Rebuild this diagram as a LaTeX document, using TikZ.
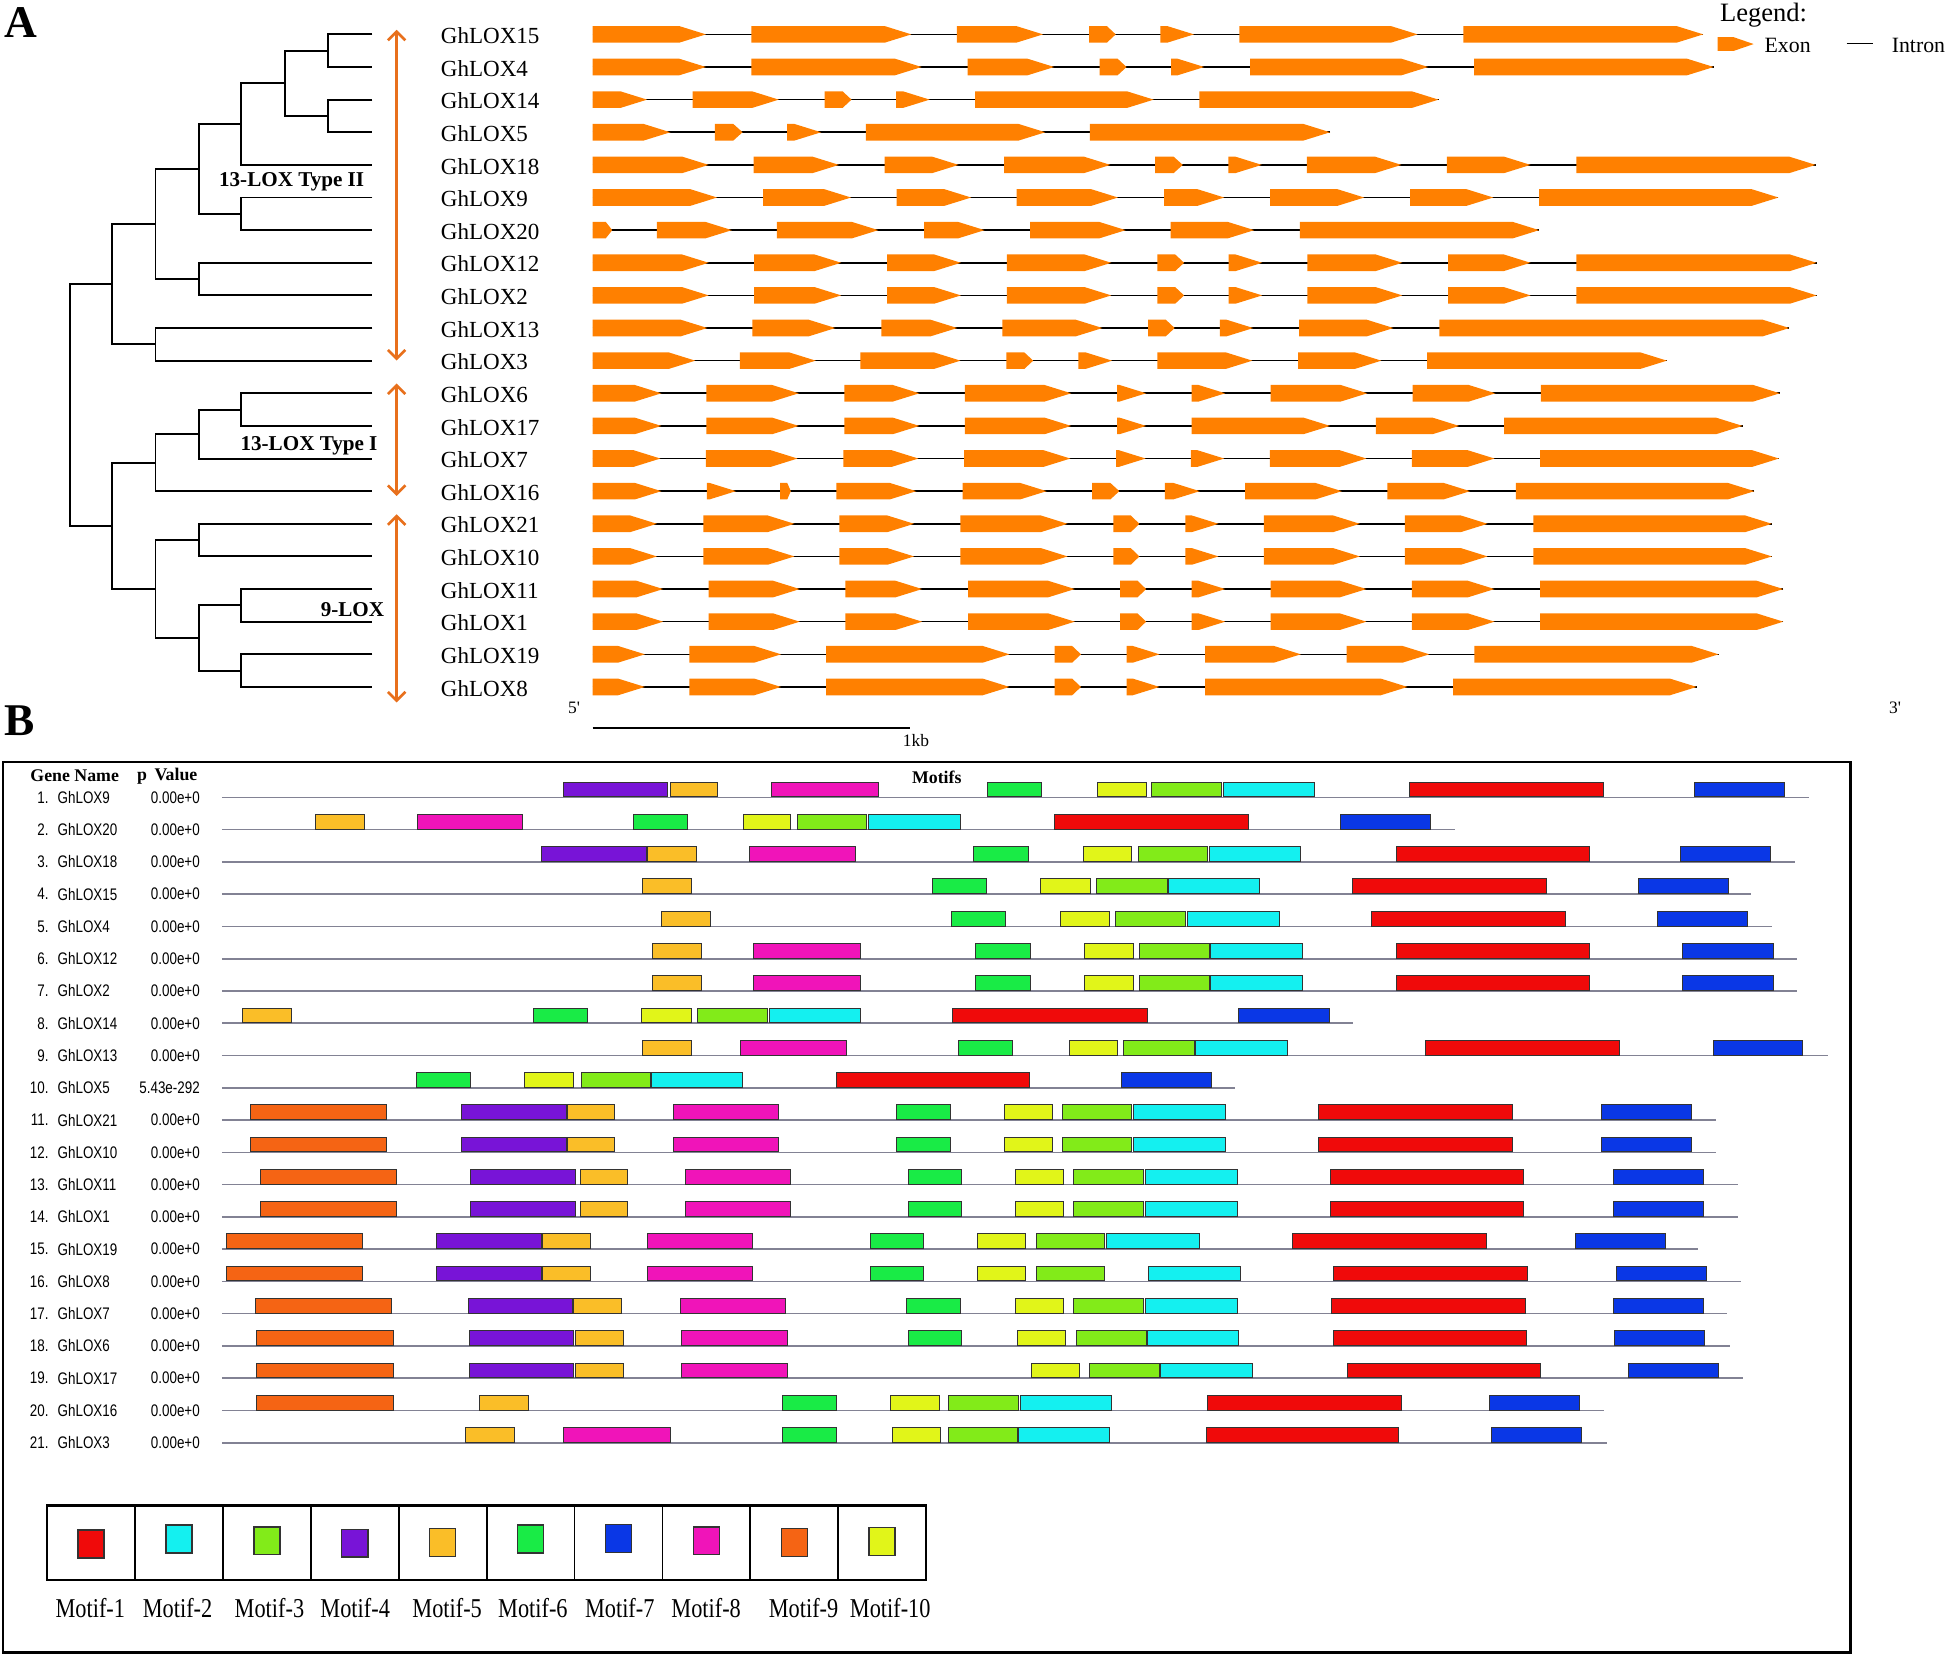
\documentclass[tikz,border=0pt]{standalone}
\usepackage{fontspec}
\setmainfont{Liberation Serif}
\newfontfamily\lsans{Liberation Sans}
\usetikzlibrary{arrows.meta}

\definecolor{exoncol}{RGB}{255,128,0}
\definecolor{cladecol}{RGB}{232,112,28}
\definecolor{bline}{RGB}{130,130,148}
\definecolor{mot1}{RGB}{240,10,10}
\definecolor{mot2}{RGB}{20,240,240}
\definecolor{mot3}{RGB}{130,235,25}
\definecolor{mot4}{RGB}{120,20,215}
\definecolor{mot5}{RGB}{250,190,40}
\definecolor{mot6}{RGB}{25,235,70}
\definecolor{mot7}{RGB}{10,55,230}
\definecolor{mot8}{RGB}{240,20,185}
\definecolor{mot9}{RGB}{245,100,20}
\definecolor{mot10}{RGB}{225,245,25}

% row position of panel A
\newcommand{\rowy}[1]{27.7+26.29*#1}

\begin{document}
\begin{tikzpicture}[x=0.025cm, y=-0.025cm,
    tree/.style={line width=1.1pt},
    intron/.style={line width=0.9pt},
    cladearrow/.style={draw=cladecol, line width=1.5pt, {Straight Barb[length=5pt,width=10pt]}-{Straight Barb[length=5pt,width=10pt]}},
    gname/.style={font=\fontsize{13.2}{15}\selectfont, anchor=west, inner sep=0pt},
    tlab/.style={font=\bfseries\fontsize{12.1}{14}\selectfont, inner sep=0pt},
    plab/.style={font=\bfseries\fontsize{26}{28}\selectfont, inner sep=0pt},
    small/.style={font=\fontsize{10}{12}\selectfont, inner sep=0pt},
    rlab/.style={font=\lsans\fontsize{9.6}{11}\selectfont, xscale=0.8, inner sep=0pt},
    hlab/.style={font=\bfseries\fontsize{10.2}{12}\selectfont, inner sep=0pt},
    mlab/.style={font=\fontsize{15.6}{18}\selectfont, xscale=0.82, inner sep=0pt},
    mbox/.style={draw=black!80, line width=0.5pt}]
    \useasboundingbox (0,0) rectangle (1568,1334);

    % Panel A: tree
    \node[plab] (pa) at (16.5,18.5) {A};
    \foreach \i in {0,...,20}
        \coordinate (l\i) at (300,{\rowy{\i}});
    \coordinate (t1) at (264.6,{\rowy{0.5}});
    \coordinate (t2) at (264.6,{\rowy{2.5}});
    \coordinate (t3) at (229.3,{\rowy{1.5}});
    \coordinate (t4) at (194.2,{\rowy{2.75}});
    \coordinate (t5) at (194.2,{\rowy{5.5}});
    \coordinate (t6) at (160.4,{\rowy{4.125}});
    \coordinate (t7) at (160.4,{\rowy{7.5}});
    \coordinate (t8) at (125.3,{\rowy{5.8125}});
    \coordinate (t9) at (125.3,{\rowy{9.5}});
    \coordinate (t10) at (90.2,{\rowy{7.65625}});
    \coordinate (t11) at (194.2,{\rowy{11.5}});
    \coordinate (t12) at (160.4,{\rowy{12.25}});
    \coordinate (t13) at (125.3,{\rowy{13.125}});
    \coordinate (t14) at (160.4,{\rowy{15.5}});
    \coordinate (t15) at (194.2,{\rowy{17.5}});
    \coordinate (t16) at (194.2,{\rowy{19.5}});
    \coordinate (t17) at (160.4,{\rowy{18.5}});
    \coordinate (t18) at (125.3,{\rowy{17}});
    \coordinate (t19) at (90.2,{\rowy{15.0625}});
    \coordinate (t20) at (56.1,{\rowy{11.36}});

    \draw[tree] (l0) -| (t1) |- (l1);
    \draw[tree] (l2) -| (t2) |- (l3);
    \draw[tree] (t1) -| (t3) |- (t2);
    \draw[tree] (t3) -| (t4) |- (l4);
    \draw[tree] (l5) -| (t5) |- (l6);
    \draw[tree] (t4) -| (t6) |- (t5);
    \draw[tree] (l7) -| (t7) |- (l8);
    \draw[tree] (t6) -| (t8) |- (t7);
    \draw[tree] (l9) -| (t9) |- (l10);
    \draw[tree] (t8) -| (t10) |- (t9);
    \draw[tree] (l11) -| (t11) |- (l12);
    \draw[tree] (t11) -| (t12) |- (l13);
    \draw[tree] (t12) -| (t13) |- (l14);
    \draw[tree] (l15) -| (t14) |- (l16);
    \draw[tree] (l17) -| (t15) |- (l18);
    \draw[tree] (l19) -| (t16) |- (l20);
    \draw[tree] (t15) -| (t17) |- (t16);
    \draw[tree] (t14) -| (t18) |- (t17);
    \draw[tree] (t13) -| (t19) |- (t18);
    \draw[tree] (t10) -| (t20) |- (t19);

    \node[tlab] (c2) at (235,146.5) {13-LOX Type II};
    \node[tlab] (c1) at (249,359) {13-LOX Type I};
    \node[tlab] (c9) at (284,491) {9-LOX};

    \draw[cladearrow] (319.6,24) -- (319.6,290.5);
    \draw[cladearrow] (319.6,309) -- (319.6,399.6);
    \draw[cladearrow] (319.6,414.4) -- (319.6,566);

    % Panel A: gene structures
    \foreach \r/\nm/\e/\ex in {
        0/15/1372.4/{477.5/568.8,605.5/734.3,771/840.4,877.5/899,935/962,998.7/1142.2,1179.2/1372.4},
        1/4/1380.8/{477.5/568.8,605.5/742.6,779.6/849.4,886.1/907.7,943.6/970.3,1007.3/1150.7,1187.7/1380.8},
        2/14/1159.1/{477.5/521.4,558.1/627.5,664.5/686.1,722.1/749.1,785.7/929.6,966.3/1159.1},
        3/5/1071.7/{477.5/540.1,576/598.3,634.3/661.6,697.6/842.2,878.2/1071.7},
        4/18/1463/{477.5/571,607.3/676,712.7/772.4,809.1/894.7,930.7/953,989.7/1016.7,1053/1129.2,1165.8/1233.2,1270.2/1463},
        5/9/1433/{477.5/577.8,614.9/685.7,722.4/782.5,819.2/900.8,937.9/986.4,1023.5/1099.2,1136.2/1203.2,1240.2/1433},
        6/20/1240.2/{477.5/493.3,529.3/589.7,626/707.7,744.7/793.3,830/907,943.3/1010.6,1047.4/1240.2},
        7/12/1463.7/{477.5/571,607.7/677.8,714.9/774.2,811.3/895.4,932.5/954.1,990/1017,1053.4/1129.9,1166.9/1233.2,1270.2/1463.7},
        8/2/1463.7/{477.5/571,607.7/677.8,714.9/774.2,811.3/895.4,932.5/954.1,990/1017,1053.4/1129.9,1166.9/1233.2,1270.2/1463.7},
        9/13/1441.8/{477.5/570,606.2/673.1,710.2/771.3,807.7/888.3,925/946.5,982.9/1009.8,1046.7/1122.8,1159.8/1441.8},
        10/3/1343.1/{477.5/560.2,596.2/657.3,693.3/773.9,810.9/832.5,868.8/896.1,932.5/1009.1,1046/1113,1150/1343.1},
        11/6/1434.1/{477.5/532.9,569.2/643.6,680.3/740.8,777.5/863.1,900.1/923.5,960.2/987.2,1023.8/1101.7,1138.3/1204.9,1241.6/1434.1},
        12/17/1404.1/{477.5/532.9,569.2/643.6,680.3/740.8,777.5/863.1,900.1/923.5,960.2/1071.7,1108.7/1175.7,1212/1404.1},
        13/7/1433.4/{477.5/532.1,568.8/642.6,679.6/740,776.8/862.4,899.4/923.1,959.5/986.4,1023.1/1101,1137.6/1204.2,1240.9/1433.4},
        14/16/1413.6/{477.5/532.9,569.6/593,628.5/637.2,673.9/738.3,775.7/843.3,880/901.9,938.6/966.7,1003.3/1081.2,1117.9/1184.5,1221.5/1413.6},
        15/21/1427.7/{477.5/529.3,566.7/640.1,676.4/736.5,773.9/860.2,897.2/918.1,955.2/981.8,1018.4/1095.7,1132/1198.6,1235.6/1427.7},
        16/10/1427.7/{477.5/529.3,566.7/640.1,676.4/736.5,773.9/860.2,897.2/918.1,955.2/981.8,1018.4/1095.7,1132/1198.6,1235.6/1427.7},
        17/11/1436.9/{477.5/534.3,571/644.4,681.1/743,780/866,902.6/923.5,960.2/987.2,1023.8/1101,1137.6/1204.2,1240.9/1436.9},
        18/1/1436.9/{477.5/534.3,571/644.4,681.1/743,780/866,902.6/923.5,960.2/987.2,1023.8/1101,1137.6/1204.2,1240.9/1436.9},
        19/19/1384.7/{477.5/519.6,555.5/629.3,665.6/813.4,849.8/871,907.7/934.3,971/1048.1,1085.1/1151.7,1188/1384.7},
        20/8/1367.1/{477.5/519.6,555.5/629.3,665.6/813.4,849.8/871,907.7/934.3,971/1134.1,1170.8/1367.1}}{
        \pgfmathsetmacro{\yy}{\rowy{\r}}
        \node[gname] (gn\r) at (355,\yy+1) {GhLOX\nm};
        \draw[intron] (477.5,\yy) -- (\e,\yy);
        \foreach \a/\b in \ex {
            \pgfmathsetmacro{\tp}{(\b-\a<23) ? (\b-\a)/3 : min(21.5,\b-\a)}
            \fill[exoncol] (\a,\yy-6.7) -- ({\b-\tp},\yy-6.7) -- (\b,\yy) -- ({\b-\tp},\yy+6.7) -- (\a,\yy+6.7) -- cycle;
        }
    }

    % scale bar and ends
    \node[small] (five) at (462.6,570) {5\textquotesingle};
    \node[small] (three) at (1527,570) {3\textquotesingle};
    \coordinate (kb0) at (477.5,586.3);
    \coordinate (kb1) at (732.9,586.3);
    \draw[line width=1.1pt] (kb0) -- (kb1);
    \node[small] (kb) at (738,597) {1kb};

    % legend
    \node[font=\fontsize{15.2}{17}\selectfont, inner sep=0pt] (leg) at (1421,12) {Legend:};
    \fill[exoncol] (1384,30) -- (1397,30) -- (1413,35.5) -- (1397,41) -- (1384,41) -- cycle;
    \node[font=\fontsize{12.5}{14}\selectfont, inner sep=0pt] (lex) at (1440.4,37) {Exon};
    \draw[intron] (1488,35) -- (1509.5,35);
    \node[font=\fontsize{12.5}{14}\selectfont, inner sep=0pt] (lin) at (1545.8,37) {Intron};

    % Panel B: motifs
    \node[plab] (pb) at (16,581) {B};
    \draw[line width=1.4pt] (2.5,613.8) rectangle (1491.2,1331.5);
    \node[hlab] (hg) at (60.2,625.3) {Gene Name};
    \node[hlab] (hp) at (134.8,625.3) {p\, Value};
    \node[hlab] (hm) at (754.8,626) {Motifs};

    \foreach \k/\nm/\pv/\e/\mm in {
        1/9/0.00e+0/1457.8/{4/454.2/537.8,5/539.9/578.1,8/621.9/707.6,6/795.9/839.5,10/884.1/923.6,3/927.7/983.9,2/985.4/1058.9,1/1136/1292.1,7/1365/1437.5},
        2/20/0.00e+0/1172.5/{5/253.8/293.6,8/336.4/421,6/510.7/553.5,10/598.8/637.1,3/642.6/698.5,2/700/773.5,1/849.6/1006.2,7/1079.7/1152.2},
        3/18/0.00e+0/1446.6/{4/436.6/520.7,5/521.7/561,8/603.8/688.9,6/784.7/828.3,10/872.9/911.4,3/917/972.8,2/974.3/1047.8,1/1124.8/1280.4,7/1353.9/1426.9},
        4/15/0.00e+0/1411.2/{5/517.7/557,6/751.4/794.9,10/838.5/878.5,3/883.6/940.3,2/941.4/1014.8,1/1089.9/1245.9,7/1319.9/1392.9},
        5/4/0.00e+0/1427.4/{5/532.8/572.6,6/767/810.1,10/854.2/894.2,3/898.8/955.5,2/957.1/1030.6,1/1105.1/1261.6,7/1335.1/1408.1},
        6/12/0.00e+0/1447.6/{5/525.8/565.5,8/607.3/693.4,6/785.8/829.9,10/873.9/913.5,3/918/974.3,2/975.3/1049.8,1/1124.8/1280.4,7/1355.9/1428.9},
        7/2/0.00e+0/1447.6/{5/525.8/565.5,8/607.3/693.4,6/785.8/829.9,10/873.9/913.5,3/918/974.3,2/975.3/1049.8,1/1124.8/1280.4,7/1355.9/1428.9},
        8/14/0.00e+0/1090.4/{5/195.4/235.2,6/430.1/473.4,10/517.2/557,3/562/618.4,2/619.9/693.4,1/767.5/924.6,7/998.1/1071.1},
        9/13/0.00e+0/1473/{5/517.7/557,8/596.3/682.4,6/772.5/815.7,10/861.8/900.3,3/905.4/962.1,2/963.1/1037.1,1/1148.6/1305.2,7/1380.2/1452.7},
        10/5/5.43e-292/995.1/{6/335.9/378.7,10/422.5/461.8,3/468.3/523.7,2/524.8/598.3,1/673.8/829.3,7/903.3/976.3},
        11/21/0.00e+0/1382.8/{9/201.4/311.2,4/371.7/456.3,5/457.3/495,8/542.4/627,6/722.2/765.5,10/809.1/847.6,3/856.2/911.4,2/913/987,1/1062.5/1218.6,7/1290.5/1363},
        12/10/0.00e+0/1382.8/{9/201.4/311.2,4/371.7/456.3,5/457.3/495,8/542.4/627,6/722.2/765.5,10/809.1/847.6,3/856.2/911.4,2/913/987,1/1062.5/1218.6,7/1290.5/1363},
        13/11/0.00e+0/1400/{9/210/319.8,4/379.2/463.3,5/467.3/505.6,8/552.4/637.1,6/731.7/774.5,10/818.2/857.2,3/864.8/921.6,2/922.6/997.1,1/1072.1/1227.2,7/1300.2/1372.6},
        14/1/0.00e+0/1400/{9/210/319.8,4/379.2/463.3,5/467.3/505.6,8/552.4/637.1,6/731.7/774.5,10/818.2/857.2,3/864.8/921.6,2/922.6/997.1,1/1072.1/1227.2,7/1300.2/1372.6},
        15/19/0.00e+0/1368.1/{9/182.8/292.1,4/352/436.1,5/437.1/475.9,8/521.7/606.3,6/701/744.3,10/787.8/826.3,3/834.9/890.2,2/891.7/966.2,1/1041.2/1197.3,7/1269.3/1342.2},
        16/8/0.00e+0/1403/{9/182.8/292.1,4/352/436.1,5/437.1/475.9,8/521.7/606.3,6/701/744.3,10/787.8/826.3,3/834.9/890.2,2/925.6/999.6,1/1074.1/1230.7,7/1302.2/1374.7},
        17/7/0.00e+0/1391.9/{9/205.5/315.8,4/377.2/461.3,5/462.3/500.6,8/547.9/632.5,6/730.7/773.5,10/818.2/857.2,3/864.8/921.6,2/922.6/997.1,1/1073.1/1229.2,7/1300.2/1372.6},
        18/6/0.00e+0/1393.9/{9/207/316.8,4/378.2/462.3,5/463.8/502.6,8/548.9/634.5,6/731.7/774.5,10/820.2/858.7,3/867.4/923.6,2/924.6/998.1,1/1074.1/1230.2,7/1301.2/1373.6},
        19/17/0.00e+0/1404.6/{9/207/316.8,4/378.2/462.3,5/463.8/502.6,8/548.9/634.5,10/830.9/869.4,3/878/934.3,2/935.3/1009.3,1/1085.3/1241.4,7/1311.8/1384.8},
        20/16/0.00e+0/1292.6/{9/207/316.8,5/386.3/426,6/630.5/673.8,10/717.6/756.9,3/764.5/820.7,2/822.3/895.7,1/972.8/1129.4,7/1199.8/1272.3},
        21/3/0.00e+0/1294.6/{5/375.2/414.5,8/454.2/540.4,6/630.5/673.8,10/719.1/757.9,3/764/819.7,2/820.7/894.2,1/971.8/1126.8,7/1201.8/1274.3}}{
        \pgfmathsetmacro{\yy}{642.5+26*(\k-1)}
        \draw[bline, line width=0.9pt] (178.8,\yy) -- (\e,\yy);
        \node[rlab, anchor=east] (n\k) at (39.3,\yy) {\k.};
        \node[rlab, anchor=west] (r\k) at (46.3,\yy) {GhLOX\nm};
        \node[rlab, anchor=east] (p\k) at (161.2,\yy) {\pv};
        \foreach \m/\a/\b in \mm
            \filldraw[mbox, fill=mot\m] (\a,\yy-12.3) rectangle (\b,\yy-0.4);
    }

    % motif legend
    \draw[line width=1.5pt] (38,1213.3) rectangle (746.2,1273.2);
    \foreach \i in {1,...,9}
        \draw[line width=1pt] ({38+70.82*\i},1213.3) -- ({38+70.82*\i},1273.2);
    \foreach \i/\yc/\lx in {1/1244/72.8, 2/1240/143.1, 3/1241.5/217.1, 4/1243.5/286.2, 5/1243/360.3,
                            6/1240/429.4, 7/1239.5/499.4, 8/1241.5/569, 9/1243/647.5, 10/1242/717.3}{
        \filldraw[mbox, line width=0.8pt, fill=mot\i] ({38+70.82*(\i-0.5)-10.5},\yc-11.2) rectangle ++(21,22.4);
        \node[mlab] (lg\i) at (\lx,1296) {Motif-\i};
    }
\end{tikzpicture}
\end{document}
